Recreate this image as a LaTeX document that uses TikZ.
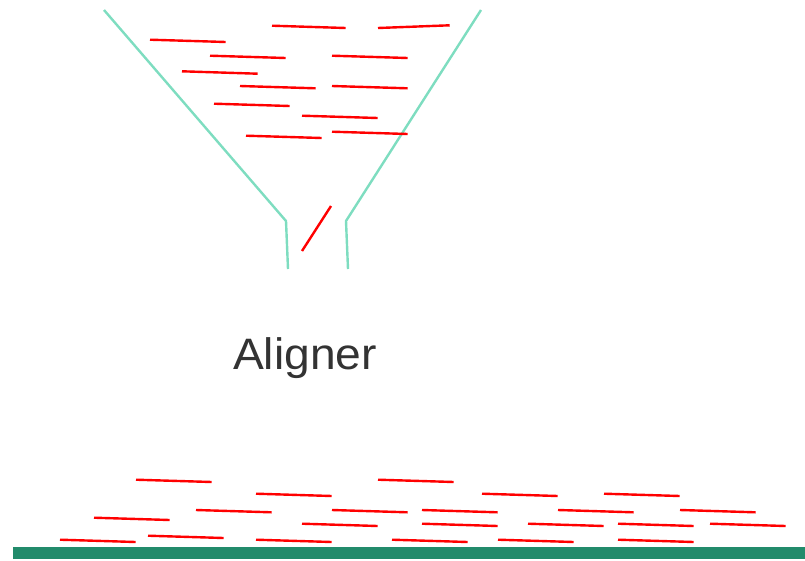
\documentclass[tikz,border=0pt]{standalone}
\usepackage{fontspec}
\setmainfont{Liberation Sans}
\definecolor{funnelc}{RGB}{126,221,192}
\definecolor{barc}{RGB}{34,139,107}
\definecolor{txtc}{RGB}{51,51,51}
\tikzset{
  readln/.style={draw=red, line width=2.4pt},
  funnel/.style={draw=funnelc, line width=2.4pt},
}
\begin{document}
\begin{tikzpicture}[x=1pt,y=-1pt]
\useasboundingbox (0,0) rectangle (805,560);
% funnel
\coordinate (l0) at (104,10); \coordinate (l1) at (286,221); \coordinate (l2) at (288,269);
\coordinate (r0) at (481,10); \coordinate (r1) at (346,221); \coordinate (r2) at (348,269);
\draw[funnel] (l0) -- (l1) -- (l2);
\draw[funnel] (r0) -- (r1) -- (r2);
% reads in funnel
\foreach \x/\y/\xx/\yy in {272/25.7/345.7/28, 378/28/449.7/25.3, 150/39.7/225.7/42,
  210/55.7/285.7/58, 332/55.7/407.7/58, 182/71.3/257.7/73.7, 240/86/315.7/88.3,
  332/86/407.7/88.3, 214/103.7/289.7/106, 302/115.7/377.7/118, 246/135.7/321.7/138,
  332/131.7/407.7/134, 302/251/331/206}
  \draw[readln] (\x,\y) -- (\xx,\yy);
% label
\node[anchor=base, inner sep=0pt, text=txtc, xscale=1.05, font=\fontsize{44}{52}\selectfont] (lab) at (305,369.3) {Aligner};
% aligned reads
\foreach \x/\y in {136/479.7, 378/479.7, 256/493.7, 482/493.7, 604/493.7,
  196/510, 332/510, 422/510, 558/510, 680/510, 94/517.7,
  302/523.7, 422/523.7, 528/523.7, 618/523.7, 710/523.7, 148/535.7,
  60/539.7, 256/539.7, 392/539.7, 498/539.7, 618/539.7}
  \draw[readln] (\x,\y) -- ++(75.7,2.3);
% reference bar
\fill[barc] (13,547) rectangle (805,559);
\end{tikzpicture}
\end{document}
